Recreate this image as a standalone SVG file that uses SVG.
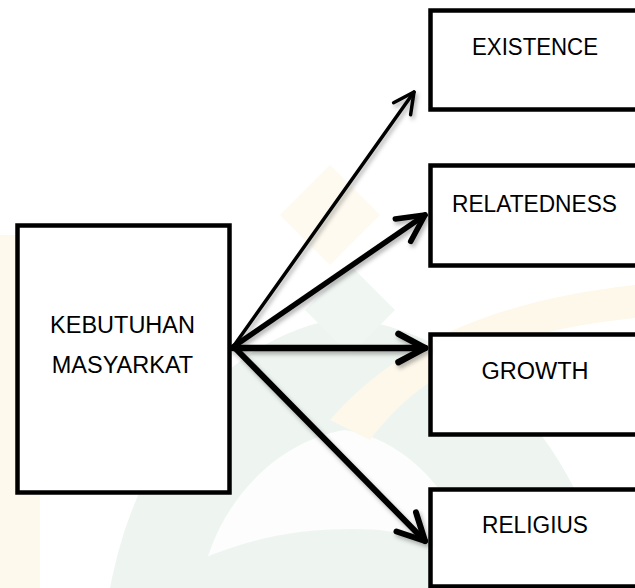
<svg xmlns="http://www.w3.org/2000/svg" width="635" height="588" viewBox="0 0 635 588">
  <style>
    .box { fill: #ffffff; stroke: #000000; stroke-width: 4.5; }
    .label { font-family: "Liberation Sans", Arial, sans-serif; font-size: 23.5px; fill: #000000; text-anchor: middle; }
    .arrow { fill: none; stroke: #000000; stroke-linecap: round; stroke-linejoin: round; }
  </style>
  <defs>
    <filter id="soft-shadow" x="-10%" y="-10%" width="130%" height="130%">
      <feDropShadow dx="2" dy="3" stdDeviation="2" flood-color="#000000" flood-opacity="0.3"/>
    </filter>
  </defs>

  <!-- page background with faint emblem -->
  <rect x="0" y="0" width="635" height="588" fill="#ffffff"/>
  <g id="background-emblem">
    <rect x="0" y="235" width="40" height="353" fill="#fef9ed"/>
    <path d="M 110 588 C 140 430 240 330 345 318 C 460 330 570 420 610 588 Z" fill="#eef5f0"/>
    <path d="M 200 588 C 215 500 280 440 345 430 C 410 440 465 500 480 588 Z" fill="#fcfdfc"/>
    <path d="M 150 588 C 220 540 300 525 380 530 C 450 540 520 560 560 588 Z" fill="#eef5f0"/>
    <path d="M 330 420 C 400 340 500 300 635 285 L 635 318 C 520 330 430 360 370 440 Z" fill="#fdf8ea"/>
    <path d="M 330 165 L 380 215 L 330 265 L 280 215 Z" fill="#fefaf0"/>
    <path d="M 350 265 L 395 310 L 350 355 L 305 310 Z" fill="#f0f6f2"/>
  </g>

  <!-- source node -->
  <g id="node-kebutuhan">
    <rect class="box" x="17.5" y="225.5" width="212" height="267"/>
    <text class="label" x="122.5" y="333">KEBUTUHAN</text>
    <text class="label" x="122.5" y="373">MASYARKAT</text>
  </g>

  <!-- target nodes -->
  <g id="node-existence">
    <rect class="box" x="430.5" y="10.5" width="250" height="99"/>
    <text class="label" x="535" y="55" textLength="126" lengthAdjust="spacingAndGlyphs">EXISTENCE</text>
  </g>
  <g id="node-relatedness">
    <rect class="box" x="430.5" y="165.5" width="250" height="100"/>
    <text class="label" x="534.5" y="212" textLength="165" lengthAdjust="spacingAndGlyphs">RELATEDNESS</text>
  </g>
  <g id="node-growth">
    <rect class="box" x="430.5" y="334.5" width="250" height="100"/>
    <text class="label" x="535" y="379">GROWTH</text>
  </g>
  <g id="node-religius">
    <rect class="box" x="430.5" y="489.5" width="250" height="97"/>
    <text class="label" x="535" y="533" textLength="106" lengthAdjust="spacingAndGlyphs">RELIGIUS</text>
  </g>

  <!-- connectors -->
  <g id="connectors" filter="url(#soft-shadow)">
    <g id="edge-existence" class="arrow" stroke-width="3.5">
      <line x1="233" y1="347" x2="414" y2="92"/>
      <polyline points="393.6,102.7 414,92 410.6,114.8"/>
    </g>
    <g id="edge-relatedness" class="arrow" stroke-width="5.5">
      <line x1="233" y1="347" x2="425" y2="215"/>
      <polyline points="395.3,218.9 425,215 410.7,241.4"/>
    </g>
    <g id="edge-growth" class="arrow" stroke-width="6.5">
      <line x1="233" y1="348" x2="425" y2="348"/>
      <polyline points="398.5,333.9 425,348 398.5,362.1"/>
    </g>
    <g id="edge-religius" class="arrow" stroke-width="6">
      <line x1="236" y1="349" x2="425" y2="541"/>
      <polyline points="416,512.4 425,541 396.5,531.5"/>
    </g>
  </g>
</svg>
